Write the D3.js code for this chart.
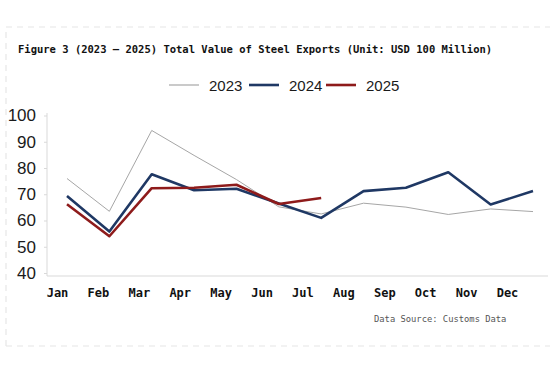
<!DOCTYPE html>
<html>
<head>
<meta charset="utf-8">
<script src="https://cdn.jsdelivr.net/npm/d3@7"></script>
<style>
  html, body { margin: 0; padding: 0; background: #fff; }
  svg { display: block; }
</style>
</head>
<body>
<div id="chart"></div>
<script>
// chart values
const months = ["Jan", "Feb", "Mar", "Apr", "May", "Jun", "Jul", "Aug", "Sep", "Oct", "Nov", "Dec"];
const v2023 = [76, 63.5, 94.3, 84.8, 75.6, 65.2, 62.5, 66.6, 65.1, 62.3, 64.4, 63.4];
const v2024 = [69.3, 55.8, 77.6, 71.5, 72.1, 66.5, 61, 71.2, 72.5, 78.4, 66.1, 71.2];
const v2025 = [66.2, 54, 72.3, 72.5, 73.6, 66.3, 68.6];
const yTicks = [40, 50, 60, 70, 80, 90, 100];

const series = [
    { name: "2023", values: v2023, color: "#a6a6a6", width: 1 },
    { name: "2024", values: v2024, color: "#1f3864", width: 2.6 },
    { name: "2025", values: v2025, color: "#8e1b1b", width: 2.6 }
];

const W = 550, H = 371;

const svg = d3.select("#chart").append("svg")
    .attr("width", W).attr("height", H)
    .attr("viewBox", [0, 0, W, H]);

// dashed frame
svg.append("path")
    .attr("d", "M6,346 L6,27 L550,27 M6,346 L550,346")
    .attr("fill", "none").attr("stroke", "#e6e6e6")
    .attr("stroke-width", 1.2).attr("stroke-dasharray", "6,5");

svg.append("text")
    .attr("x", 18).attr("y", 52.5)
    .style("font-family", "'DejaVu Sans Mono', monospace")
    .style("font-weight", "bold").style("font-size", "10.5px")
    .attr("fill", "#111")
    .text("Figure 3 (2023\u2009\u2013\u20092025) Total Value of Steel Exports (Unit: USD 100 Million)");

// scales
const x = d3.scalePoint().domain(months).range([67, 533]);
const xLab = d3.scalePoint().domain(months).range([57, 507]);
const y = d3.scaleLinear().domain([40, 100]).range([273, 115.5]);

// axis lines
svg.append("line").attr("x1", 47).attr("x2", 47).attr("y1", 113).attr("y2", 276)
    .attr("stroke", "#d9d9d9");
svg.append("line").attr("x1", 47).attr("x2", 548).attr("y1", 276).attr("y2", 276)
    .attr("stroke", "#d9d9d9");

const yAxis = svg.append("g").attr("transform", "translate(47,0)")
    .call(d3.axisLeft(y).tickValues(yTicks).tickSize(3).tickPadding(8));
yAxis.select(".domain").remove();
yAxis.selectAll(".tick line").attr("stroke", "#d9d9d9");
yAxis.selectAll("text")
    .style("font-family", "'Liberation Sans', Arial, sans-serif")
    .style("font-size", "17px").attr("fill", "#1a1a1a");

const xAxis = svg.append("g").attr("transform", "translate(0,276)")
    .call(d3.axisBottom(xLab).tickSize(0).tickPadding(12));
xAxis.select(".domain").remove();
xAxis.selectAll("text")
    .style("font-family", "'DejaVu Sans Mono', monospace")
    .style("font-weight", "bold").style("font-size", "12px").attr("fill", "#111");

// lines
const line = d3.line()
    .x((d, i) => x(months[i]))
    .y(d => y(d));

svg.append("g").selectAll("path").data(series).join("path")
    .attr("d", d => line(d.values))
    .attr("fill", "none")
    .attr("stroke", d => d.color)
    .attr("stroke-width", d => d.width)
    .attr("stroke-linejoin", "round");

// legend
const legendX = [169, 249, 326];
const lg = svg.append("g").selectAll("g").data(series).join("g")
    .attr("transform", (d, i) => `translate(${legendX[i]},85)`);
lg.append("line").attr("x1", 0).attr("x2", 30).attr("y1", 0).attr("y2", 0)
    .attr("stroke", d => d.color)
    .attr("stroke-width", d => d.width === 1 ? 1.2 : 2.6);
lg.append("text").attr("x", 40).attr("y", 5.5)
    .style("font-family", "'Liberation Sans', Arial, sans-serif")
    .style("font-size", "15px").attr("fill", "#1a1a1a")
    .text(d => d.name);

svg.append("text")
    .attr("x", 374).attr("y", 322)
    .style("font-family", "'DejaVu Sans Mono', monospace")
    .style("font-size", "8.8px").attr("fill", "#555")
    .text("Data Source: Customs Data");
</script>
</body>
</html>
